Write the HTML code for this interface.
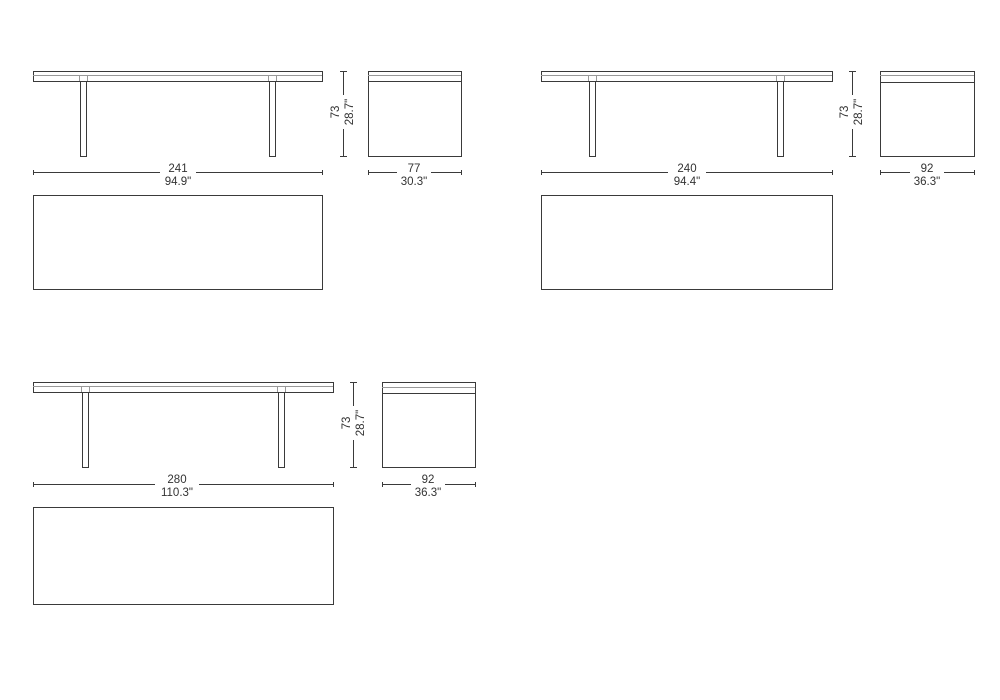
<!DOCTYPE html>
<html><head><meta charset="utf-8"><style>
html,body{margin:0;padding:0;background:#fff;width:1000px;height:700px;overflow:hidden}
svg{display:block}
text{font-family:"Liberation Sans",sans-serif;font-size:11.5px;fill:#333}
.l{stroke:#3a3a3a;stroke-width:1;fill:none}
.g{stroke:#999;stroke-width:1;fill:none}
</style></head><body>
<svg width="1000" height="700" viewBox="0 0 1000 700" xmlns="http://www.w3.org/2000/svg">
<defs>
<g id="none"></g>
</defs>

<!-- Group 1 -->
<g>
<rect class="l" x="33.5" y="71.5" width="289" height="10"/>
<line class="g" x1="33" y1="75.5" x2="322" y2="75.5"/>
<rect class="l" x="80.5" y="81.5" width="6" height="75"/>
<rect class="l" x="269.5" y="81.5" width="6" height="75"/>
<line class="g" x1="79.5" y1="75" x2="79.5" y2="81"/><line class="g" x1="87.5" y1="75" x2="87.5" y2="81"/>
<line class="g" x1="268.5" y1="75" x2="268.5" y2="81"/><line class="g" x1="276.5" y1="75" x2="276.5" y2="81"/>
<line class="l" x1="343.5" y1="71" x2="343.5" y2="156"/>
<line class="l" x1="340" y1="71.5" x2="347" y2="71.5"/><line class="l" x1="340" y1="156.5" x2="347" y2="156.5"/>
<rect x="330" y="95" width="26" height="34" fill="#fff"/>
<text transform="translate(339,112) rotate(-90)" text-anchor="middle">73</text>
<text transform="translate(353,112) rotate(-90)" text-anchor="middle">28.7"</text>
<rect class="l" x="368.5" y="71.5" width="93" height="85"/>
<line class="g" x1="368" y1="75.5" x2="461" y2="75.5"/><line class="l" x1="368" y1="81.5" x2="461" y2="81.5"/>
<line class="l" x1="33" y1="172.5" x2="322" y2="172.5"/>
<line class="l" x1="33.5" y1="170" x2="33.5" y2="175"/><line class="l" x1="322.5" y1="170" x2="322.5" y2="175"/>
<rect x="160" y="162" width="36" height="26" fill="#fff"/>
<text x="178" y="172" text-anchor="middle">241</text>
<text x="178" y="185" text-anchor="middle">94.9"</text>
<line class="l" x1="368" y1="172.5" x2="461" y2="172.5"/>
<line class="l" x1="368.5" y1="170" x2="368.5" y2="175"/><line class="l" x1="461.5" y1="170" x2="461.5" y2="175"/>
<rect x="397" y="162" width="34" height="26" fill="#fff"/>
<text x="414" y="172" text-anchor="middle">77</text>
<text x="414" y="185" text-anchor="middle">30.3"</text>
<rect class="l" x="33.5" y="195.5" width="289" height="94"/>
</g>

<!-- Group 2 -->
<g>
<rect class="l" x="541.5" y="71.5" width="291" height="10"/>
<line class="g" x1="541" y1="75.5" x2="832" y2="75.5"/>
<rect class="l" x="589.5" y="81.5" width="6" height="75"/>
<rect class="l" x="777.5" y="81.5" width="6" height="75"/>
<line class="g" x1="588.5" y1="75" x2="588.5" y2="81"/><line class="g" x1="596.5" y1="75" x2="596.5" y2="81"/>
<line class="g" x1="776.5" y1="75" x2="776.5" y2="81"/><line class="g" x1="784.5" y1="75" x2="784.5" y2="81"/>
<line class="l" x1="852.5" y1="71" x2="852.5" y2="156"/>
<line class="l" x1="849" y1="71.5" x2="856" y2="71.5"/><line class="l" x1="849" y1="156.5" x2="856" y2="156.5"/>
<rect x="839" y="95" width="26" height="34" fill="#fff"/>
<text transform="translate(848,112) rotate(-90)" text-anchor="middle">73</text>
<text transform="translate(862,112) rotate(-90)" text-anchor="middle">28.7"</text>
<rect class="l" x="880.5" y="71.5" width="94" height="85"/>
<line class="g" x1="880" y1="75.5" x2="974" y2="75.5"/><line class="l" x1="880" y1="82.5" x2="974" y2="82.5"/>
<line class="l" x1="541" y1="172.5" x2="832" y2="172.5"/>
<line class="l" x1="541.5" y1="170" x2="541.5" y2="175"/><line class="l" x1="832.5" y1="170" x2="832.5" y2="175"/>
<rect x="668" y="162" width="38" height="26" fill="#fff"/>
<text x="687" y="172" text-anchor="middle">240</text>
<text x="687" y="185" text-anchor="middle">94.4"</text>
<line class="l" x1="880" y1="172.5" x2="974" y2="172.5"/>
<line class="l" x1="880.5" y1="170" x2="880.5" y2="175"/><line class="l" x1="974.5" y1="170" x2="974.5" y2="175"/>
<rect x="910" y="162" width="34" height="26" fill="#fff"/>
<text x="927" y="172" text-anchor="middle">92</text>
<text x="927" y="185" text-anchor="middle">36.3"</text>
<rect class="l" x="541.5" y="195.5" width="291" height="94"/>
</g>

<!-- Group 3 -->
<g>
<rect class="l" x="33.5" y="382.5" width="300" height="10"/>
<line class="g" x1="33" y1="386.5" x2="333" y2="386.5"/>
<rect class="l" x="82.5" y="392.5" width="6" height="75"/>
<rect class="l" x="278.5" y="392.5" width="6" height="75"/>
<line class="g" x1="81.5" y1="386" x2="81.5" y2="392"/><line class="g" x1="89.5" y1="386" x2="89.5" y2="392"/>
<line class="g" x1="277.5" y1="386" x2="277.5" y2="392"/><line class="g" x1="285.5" y1="386" x2="285.5" y2="392"/>
<line class="l" x1="353.5" y1="382" x2="353.5" y2="467"/>
<line class="l" x1="350" y1="382.5" x2="357" y2="382.5"/><line class="l" x1="350" y1="467.5" x2="357" y2="467.5"/>
<rect x="340" y="406" width="26" height="34" fill="#fff"/>
<text transform="translate(350,423) rotate(-90)" text-anchor="middle">73</text>
<text transform="translate(364,423) rotate(-90)" text-anchor="middle">28.7"</text>
<rect class="l" x="382.5" y="382.5" width="93" height="85"/>
<line class="g" x1="382" y1="387.5" x2="475" y2="387.5"/><line class="l" x1="382" y1="393.5" x2="475" y2="393.5"/>
<line class="l" x1="33" y1="484.5" x2="333" y2="484.5"/>
<line class="l" x1="33.5" y1="482" x2="33.5" y2="487"/><line class="l" x1="333.5" y1="482" x2="333.5" y2="487"/>
<rect x="155" y="474" width="44" height="26" fill="#fff"/>
<text x="177" y="483" text-anchor="middle">280</text>
<text x="177" y="496" text-anchor="middle">110.3"</text>
<line class="l" x1="382" y1="484.5" x2="475" y2="484.5"/>
<line class="l" x1="382.5" y1="482" x2="382.5" y2="487"/><line class="l" x1="475.5" y1="482" x2="475.5" y2="487"/>
<rect x="411" y="474" width="34" height="26" fill="#fff"/>
<text x="428" y="483" text-anchor="middle">92</text>
<text x="428" y="496" text-anchor="middle">36.3"</text>
<rect class="l" x="33.5" y="507.5" width="300" height="97"/>
</g>
</svg>
</body></html>
